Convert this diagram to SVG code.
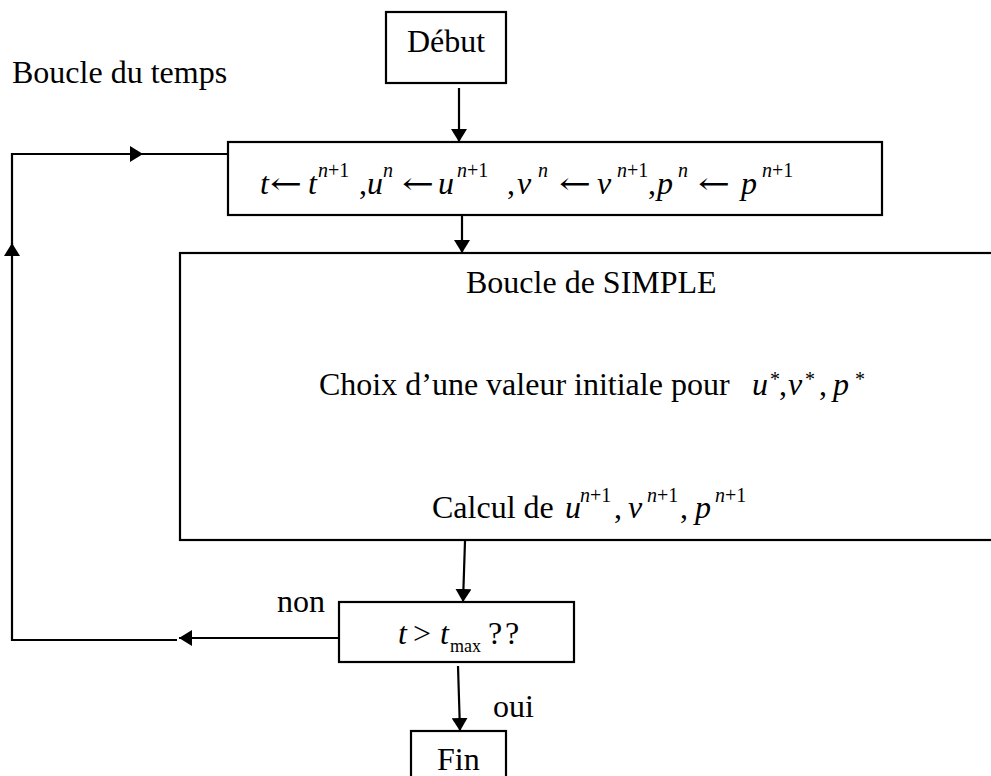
<svg xmlns="http://www.w3.org/2000/svg" width="991" height="776" viewBox="0 0 991 776">
<style>
  text { font-family: "Liberation Serif", "Times New Roman", serif; fill: #000; font-size: 32px; }
  .i { font-style: italic; }
  .sup { font-size: 20px; }
  .sub { font-size: 18px; }
  .arr { font-family: "DejaVu Serif", "Liberation Serif", serif; font-size: 30px; }
  .box { fill: #fff; stroke: #000; stroke-width: 2.2; }
  .ln { fill: none; stroke: #000; stroke-width: 2.2; }
</style>
<defs>
  <marker id="ah" viewBox="0 0 13 16" refX="13" refY="8" markerWidth="13" markerHeight="16" markerUnits="userSpaceOnUse" orient="auto">
    <path d="M0,0 L13,8 L0,16 Z" fill="#000"/>
  </marker>
</defs>
<rect width="991" height="776" fill="#fff"/>

<text id="label-boucle-temps" x="12" y="83">Boucle du temps</text>

<g id="connectors">
  <line class="ln" x1="459" y1="88" x2="459" y2="142" marker-end="url(#ah)"/>
  <line class="ln" x1="462" y1="207" x2="462" y2="253" marker-end="url(#ah)"/>
  <line class="ln" x1="465" y1="541" x2="463" y2="602" marker-end="url(#ah)"/>
  <line class="ln" x1="458" y1="666" x2="460" y2="731" marker-end="url(#ah)"/>
  <line class="ln" x1="343" y1="638" x2="179" y2="638" marker-end="url(#ah)"/>
  <polyline class="ln" points="177,640 12,640 12,243" marker-end="url(#ah)"/>
  <polyline class="ln" points="12,244 12,154 143,154" marker-end="url(#ah)"/>
  <line class="ln" x1="142" y1="154" x2="228" y2="154"/>
</g>

<g id="node-debut">
  <rect class="box" x="386" y="12" width="120" height="71"/>
  <text x="407" y="52">Début</text>
</g>

<g id="node-update">
  <rect class="box" x="228" y="142" width="654" height="73"/>
  <text y="194"><tspan class="i" x="260">t</tspan><tspan class="i" x="308">t</tspan><tspan class="sup i" x="318" y="177">n</tspan><tspan class="sup">+1</tspan><tspan x="359" y="194">,</tspan><tspan class="i" x="367">u</tspan><tspan class="sup i" x="383" y="177">n</tspan><tspan class="i" x="438" y="194">u</tspan><tspan class="sup i" x="457" y="177">n</tspan><tspan class="sup">+1</tspan><tspan x="507" y="194">,</tspan><tspan class="i" x="517">v</tspan><tspan class="sup i" x="538" y="177">n</tspan><tspan class="i" x="597" y="194">v</tspan><tspan class="sup i" x="617" y="177">n</tspan><tspan class="sup">+1</tspan><tspan x="648" y="194">,</tspan><tspan class="i" x="657">p</tspan><tspan class="sup i" x="678" y="177">n</tspan><tspan class="i" x="741" y="194">p</tspan><tspan class="sup i" x="762" y="177">n</tspan><tspan class="sup">+1</tspan></text>
  <text class="arr" x="270" y="194" textLength="32" lengthAdjust="spacingAndGlyphs">←</text>
  <text class="arr" x="402" y="194" textLength="32" lengthAdjust="spacingAndGlyphs">←</text>
  <text class="arr" x="559" y="194" textLength="32" lengthAdjust="spacingAndGlyphs">←</text>
  <text class="arr" x="698" y="194" textLength="32" lengthAdjust="spacingAndGlyphs">←</text>
</g>

<g id="node-simple">
  <rect class="box" x="180" y="253" width="830" height="287"/>
  <text x="466" y="293">Boucle de SIMPLE</text>
  <text y="395"><tspan x="319">Choix d’une valeur initiale pour</tspan><tspan class="i" x="752">u</tspan><tspan class="sup" x="770" y="386">*</tspan><tspan x="779" y="395">,</tspan><tspan class="i" x="788">v</tspan><tspan class="sup" x="805" y="386">*</tspan><tspan x="819" y="395">,</tspan><tspan class="i" x="833">p</tspan><tspan class="sup" x="855" y="386">*</tspan></text>
  <text y="518"><tspan x="432">Calcul de</tspan><tspan class="i" x="565">u</tspan><tspan class="sup i" x="580" y="502">n</tspan><tspan class="sup">+1</tspan><tspan x="614" y="518">,</tspan><tspan class="i" x="628">v</tspan><tspan class="sup i" x="647" y="502">n</tspan><tspan class="sup">+1</tspan><tspan x="680" y="518">,</tspan><tspan class="i" x="695">p</tspan><tspan class="sup i" x="715" y="502">n</tspan><tspan class="sup">+1</tspan></text>
</g>

<g id="node-test">
  <rect class="box" x="339" y="602" width="235" height="60"/>
  <text y="644"><tspan class="i" x="398">t</tspan><tspan x="413">&gt;</tspan><tspan class="i" x="440">t</tspan><tspan class="sub" x="450" y="652">max</tspan><tspan x="488" y="644">?</tspan><tspan x="505">?</tspan></text>
</g>

<text id="label-non" x="277" y="612">non</text>
<text id="label-oui" x="493" y="717">oui</text>

<g id="node-fin">
  <rect class="box" x="411" y="731" width="95" height="80"/>
  <text x="437" y="770">Fin</text>
</g>
</svg>
